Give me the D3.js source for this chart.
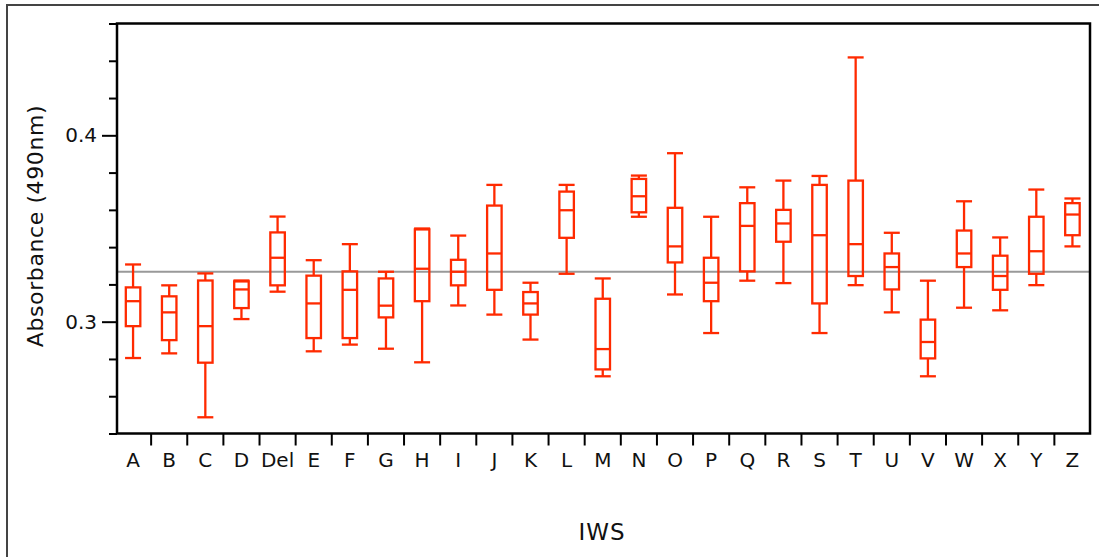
<!DOCTYPE html>
<html>
<head>
<meta charset="utf-8">
<script src="https://cdn.jsdelivr.net/npm/d3@7"></script>
<style>
  html, body { margin: 0; padding: 0; background: #fff; }
  svg { display: block; }
  text { font-family: "DejaVu Sans", Verdana, sans-serif; fill: #111; }
</style>
</head>
<body>
<svg id="chart" width="1099" height="557"></svg>
<script>
// IWS groups along the x axis
const categories = ["A","B","C","D","Del","E","F","G","H","I","J","K","L","M","N","O","P","Q","R","S","T","U","V","W","X","Y","Z"];

// Five-number summaries of absorbance at 490 nm for each group
const whiskerLow  = [0.2805,0.2830,0.2487,0.3014,0.3161,0.2841,0.2877,0.2855,0.2782,0.3087,0.3038,0.2904,0.3257,0.2707,0.3563,0.3146,0.2939,0.3220,0.3207,0.2939,0.3196,0.3050,0.2707,0.3075,0.3061,0.3196,0.3404];
const quartile1   = [0.2976,0.2901,0.2780,0.3073,0.3195,0.2912,0.2912,0.3023,0.3110,0.3195,0.3171,0.3038,0.3450,0.2744,0.3587,0.3318,0.3110,0.3270,0.3429,0.3098,0.3245,0.3173,0.2803,0.3293,0.3171,0.3257,0.3464];
const medians     = [0.3110,0.3050,0.2976,0.3173,0.3343,0.3098,0.3171,0.3086,0.3284,0.3268,0.3366,0.3098,0.3598,0.2853,0.3673,0.3404,0.3209,0.3514,0.3527,0.3464,0.3416,0.3293,0.2891,0.3366,0.3245,0.3378,0.3575];
const quartile3   = [0.3184,0.3136,0.3221,0.3216,0.3479,0.3247,0.3270,0.3232,0.3495,0.3332,0.3623,0.3159,0.3698,0.3123,0.3766,0.3611,0.3343,0.3636,0.3600,0.3734,0.3757,0.3366,0.3011,0.3489,0.3354,0.3563,0.3636];
const whiskerHigh = [0.3307,0.3195,0.3259,0.3221,0.3564,0.3330,0.3416,0.3268,0.3500,0.3462,0.3734,0.3209,0.3734,0.3232,0.3784,0.3904,0.3563,0.3721,0.3757,0.3782,0.4418,0.3477,0.3220,0.3646,0.3452,0.3709,0.3661];

// Grand mean reference line
const grandMean = 0.3268;

// Y axis: labelled ticks and minor ticks
const yLabelTicks = [0.3, 0.4];
const yMinorTicks = [0.24,0.26,0.28,0.32,0.34,0.36,0.38,0.42,0.44,0.46];
const yDomain = [0.24, 0.46];

const boxColor = "#ff2a00";

const svg = d3.select("#chart");

// Outer frame of the figure
svg.append("path")
  .attr("d", "M7,557 V5 H1099")
  .attr("fill", "none")
  .attr("stroke", "#444")
  .attr("stroke-width", 2);

const plot = { left: 117, right: 1090, top: 23.5, bottom: 433.5 };

const x = d3.scaleBand()
  .domain(categories)
  .range([115, 1090.5])
  .padding(0);

const y = d3.scaleLinear()
  .domain(yDomain)
  .range([plot.bottom, plot.top]);

// Grand mean line
svg.append("line")
  .attr("x1", plot.left).attr("x2", plot.right)
  .attr("y1", y(grandMean)).attr("y2", y(grandMean))
  .attr("stroke", "#999")
  .attr("stroke-width", 2);

// Box plots
const rows = categories.map((c, i) => ({
  cat: c, lo: whiskerLow[i], q1: quartile1[i], med: medians[i], q3: quartile3[i], hi: whiskerHigh[i]
}));

const boxW = 14.5, capW = 16;
const g = svg.append("g")
  .attr("fill", "none")
  .attr("stroke", boxColor)
  .attr("stroke-width", 2.3);

const box = g.selectAll("g.box").data(rows).join("g").attr("class", "box")
  .attr("transform", d => `translate(${x(d.cat) + x.bandwidth() / 2},0)`);

box.append("line").attr("x1", 0).attr("x2", 0)
  .attr("y1", d => y(d.hi)).attr("y2", d => y(d.q3));
box.append("line").attr("x1", 0).attr("x2", 0)
  .attr("y1", d => y(d.q1)).attr("y2", d => y(d.lo));
box.append("line").attr("x1", -capW / 2).attr("x2", capW / 2)
  .attr("y1", d => y(d.hi)).attr("y2", d => y(d.hi));
box.append("line").attr("x1", -capW / 2).attr("x2", capW / 2)
  .attr("y1", d => y(d.lo)).attr("y2", d => y(d.lo));
box.append("rect")
  .attr("x", -boxW / 2).attr("width", boxW)
  .attr("y", d => y(d.q3))
  .attr("height", d => y(d.q1) - y(d.q3));
box.append("line").attr("x1", -boxW / 2).attr("x2", boxW / 2)
  .attr("y1", d => y(d.med)).attr("y2", d => y(d.med));

// Plot frame
svg.append("rect")
  .attr("x", plot.left).attr("y", plot.top)
  .attr("width", plot.right - plot.left).attr("height", plot.bottom - plot.top)
  .attr("fill", "none").attr("stroke", "#000").attr("stroke-width", 2.5);

// Y axis: major ticks with labels
const yMajor = svg.append("g")
  .attr("transform", `translate(${plot.left},0)`)
  .call(d3.axisLeft(y).tickValues(yLabelTicks).tickSize(15).tickPadding(5).tickFormat(d3.format(".1f")));
yMajor.select(".domain").remove();
yMajor.selectAll("line").attr("stroke", "#000").attr("stroke-width", 2);
yMajor.selectAll("text").attr("font-size", 20).attr("font-family", "DejaVu Sans").attr("fill", "#111");

// Y axis: minor ticks
const yMinor = svg.append("g")
  .attr("transform", `translate(${plot.left},0)`)
  .call(d3.axisLeft(y).tickValues(yMinorTicks).tickSize(8).tickFormat(""));
yMinor.select(".domain").remove();
yMinor.selectAll("line").attr("stroke", "#000").attr("stroke-width", 2);

// X axis: separators between groups and centred labels
const boundaries = categories.slice(1);
const xSep = svg.append("g")
  .attr("transform", `translate(0,${plot.bottom})`)
  .call(d3.axisBottom(x).tickValues(boundaries).tickSize(12).tickFormat(""));
xSep.select(".domain").remove();
xSep.selectAll(".tick").attr("transform", d => `translate(${x(d)},0)`);
xSep.selectAll("line").attr("stroke", "#000").attr("stroke-width", 2);

const xLab = svg.append("g")
  .attr("transform", `translate(0,${plot.bottom})`)
  .call(d3.axisBottom(x).tickSize(0).tickPadding(19));
xLab.select(".domain").remove();
xLab.selectAll("text").attr("font-size", 20).attr("font-family", "DejaVu Sans").attr("fill", "#111");

// Axis titles
svg.append("text")
  .attr("x", 602).attr("y", 540)
  .attr("text-anchor", "middle")
  .attr("font-size", 23)
  .attr("letter-spacing", 1)
  .text("IWS");

svg.append("text")
  .attr("transform", "translate(43,226) rotate(-90)")
  .attr("text-anchor", "middle")
  .attr("font-size", 22)
  .attr("letter-spacing", 0.6)
  .text("Absorbance (490nm)");
</script>
</body>
</html>
